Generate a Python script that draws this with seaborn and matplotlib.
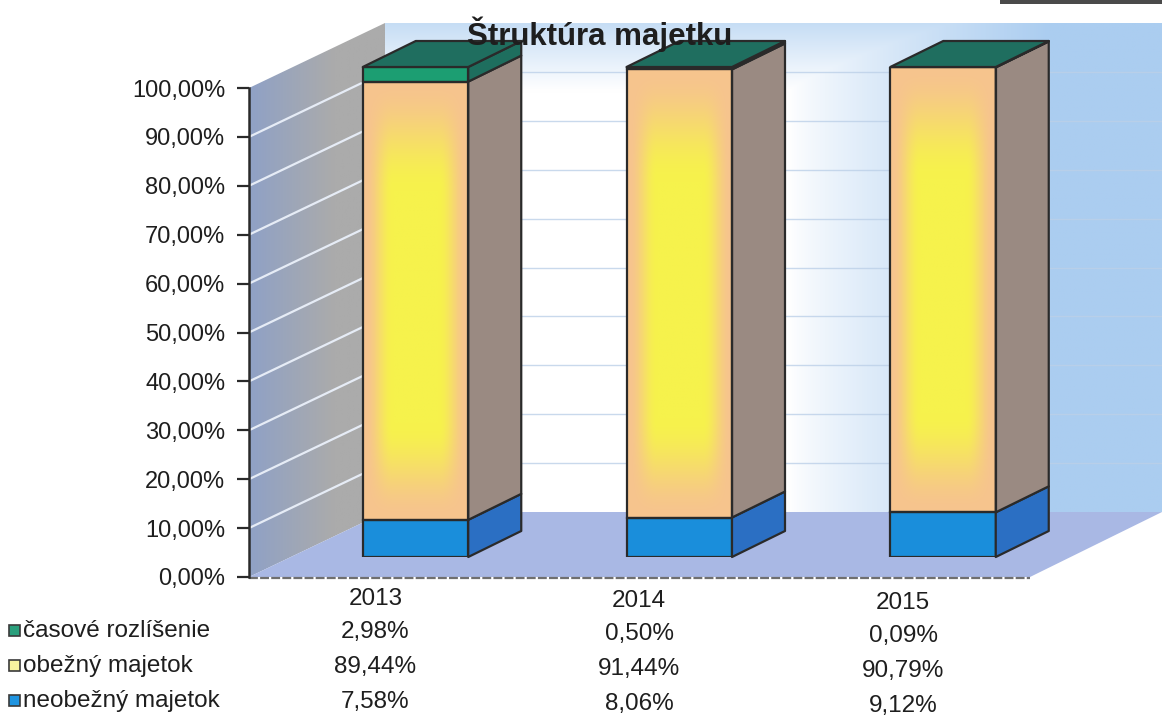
import numpy as np
import matplotlib
matplotlib.use("Agg")
import matplotlib.pyplot as plt
import seaborn as sns
from matplotlib.patches import Polygon, Rectangle
from matplotlib.colors import to_rgb

# ---------------- data ----------------
years = ["2013", "2014", "2015"]
series_names = ["časové rozlíšenie", "obežný majetok", "neobežný majetok"]
casove = [2.98, 0.50, 0.09]
obezny = [89.44, 91.44, 90.79]
neobezny = [7.58, 8.06, 9.12]
y_ticks = [0, 10, 20, 30, 40, 50, 60, 70, 80, 90, 100]
title = "Štruktúra majetku"

def pct(v):
    return f"{v:.2f}%".replace(".", ",")

# ---------------- style ----------------
sns.set_theme(style="white")
plt.rcParams['font.family'] = ['Liberation Sans', 'DejaVu Sans']
TXT = "#1e1e1e"
EDGE = "#2a2a2a"
front_col = {"neo": "#1a8edb", "obe": "#f7c48e", "cas": "#1c9e72"}
side_col = {"neo": "#2b6fc3", "obe": "#9a8a82", "cas": "#1e6e5e"}
top_col = "#1f6e5f"

W, H = 1162, 719
fig = plt.figure(figsize=(W / 100, H / 100), dpi=100)
fig.patch.set_facecolor("white")

# background axes in pixel coordinates
bg = fig.add_axes([0, 0, 1, 1], zorder=0)
bg.set_xlim(0, W)
bg.set_ylim(H, 0)
bg.axis("off")

# value axis (front plane)
AX_X, Y0, Y100 = 249, 577, 88
ax_t = fig.add_axes([AX_X / W, (H - Y0) / H, 0.0005, (Y0 - Y100) / H], zorder=2)
ax_t.set_facecolor("none")
ax_t.set_ylim(0, 100)
ax_t.set_yticks(y_ticks)
ax_t.set_yticklabels([pct(v) for v in y_ticks], fontsize=17, color=TXT)
ax_t.set_xticks([])
for s in ["top", "right", "bottom"]:
    ax_t.spines[s].set_visible(False)
ax_t.spines["left"].set_color(EDGE)
ax_t.spines["left"].set_linewidth(1.8)
ax_t.tick_params(axis="y", direction="out", length=9, width=1.6, color=EDGE, pad=8, left=True)

def to_px(ax, x, y):
    X, Y = ax.transData.transform((x, y))
    return X, H - Y

# 3D box depth (walls)
DX, DY = 136, -65
fx0, fy0 = to_px(ax_t, 0, 0)
fx1, fy1 = to_px(ax_t, 0, 100)
bx = fx0 + DX

# left wall
left_poly = [(fx1, fy1), (bx, fy1 + DY), (bx, fy0 + DY), (fx0, fy0)]
gx = np.linspace(0, 1, 200)
lw_img = np.zeros((2, 200, 3))
c_a, c_b = np.array(to_rgb("#8fa1c6")), np.array(to_rgb("#ababab"))
tt = np.clip(gx * 1.6, 0, 1)
for i in range(2):
    lw_img[i] = c_a[None, :] * (1 - tt[:, None]) + c_b[None, :] * tt[:, None]
im = bg.imshow(lw_img, extent=(fx0, bx, fy0, fy1 + DY), aspect="auto", zorder=0.5)
pp = Polygon(left_poly, closed=True, facecolor="none", edgecolor="none", transform=bg.transData)
bg.add_patch(pp)
im.set_clip_path(pp)

# back wall
nx, ny = 300, 200
xs = np.linspace(bx, W, nx)
ys = np.linspace(fy1 + DY, fy0 + DY, ny)
XX, YY = np.meshgrid(xs, ys)
t_right = np.clip((XX - 790) / 260, 0, 1) ** 0.8
t_top = np.clip((90 - YY) / 70, 0, 1) * 0.7
t_left = np.clip((430 - XX) / 60, 0, 1) * 0.2
tb = np.maximum(np.maximum(t_right, t_top), t_left)
blue = np.array(to_rgb("#abcdf0"))
white = np.array([1.0, 1.0, 1.0])
bw_img = white[None, None, :] * (1 - tb[..., None]) + blue[None, None, :] * tb[..., None]
bg.imshow(bw_img, extent=(bx, W, fy0 + DY, fy1 + DY), aspect="auto", origin="upper", zorder=0.4)

# floor
floor_poly = [(fx0, fy0), (bx, fy0 + DY), (W, fy0 + DY), (W - DX + 4, fy0)]
bg.add_patch(Polygon(floor_poly, closed=True, facecolor="#a9b8e4", edgecolor="none", zorder=0.6))
bg.plot([fx0, W - DX + 4], [fy0 + 1, fy0 + 1], color="#6f6f6f", lw=1.6, ls=(0, (4, 1)), zorder=0.7)

# gridlines
for v in y_ticks[1:-1]:
    _, gy = to_px(ax_t, 0, v)
    bg.plot([fx0, bx], [gy, gy + DY], color="#e6ecf6", lw=1.6, zorder=0.8)
    bg.plot([bx, W], [gy + DY, gy + DY], color="#bcd0e8", lw=1.0, alpha=0.8, zorder=0.8)
bg.set_xlim(0, W)
bg.set_ylim(H, 0)

# scan artefact at top right
bg.add_patch(Rectangle((1000, 0), 162, 4, facecolor="#4a4a4a", edgecolor="none", zorder=0.9))

# ---------------- bars ----------------
C0, STEP = 415.5, 263.75
BY0, BY100 = 557, 67
ax_b = fig.add_axes([(C0 - STEP / 2) / W, (H - BY0) / H, 3 * STEP / W, (BY0 - BY100) / H], zorder=3)
ax_b.set_facecolor("none")

bot_obe = list(np.array(neobezny))
bot_cas = list(np.array(neobezny) + np.array(obezny))
groups = {}
for key, vals, bottom in [("neo", neobezny, 0), ("obe", obezny, bot_obe), ("cas", casove, bot_cas)]:
    n0 = len(ax_b.patches)
    sns.barplot(x=years, y=vals, bottom=bottom, order=years, ax=ax_b, color=front_col[key],
                saturation=1, width=0.40, edgecolor=EDGE, linewidth=1.6, errorbar=None)
    groups[key] = ax_b.patches[n0:]

dxu = 53 / STEP
dyu = 26 / ((BY0 - BY100) / 100)

for key, patches in groups.items():
    for p in patches:
        x0, y0, w, h = p.get_x(), p.get_y(), p.get_width(), p.get_height()
        x1 = x0 + w
        side = [(x1, y0), (x1 + dxu, y0 + dyu), (x1 + dxu, y0 + h + dyu), (x1, y0 + h)]
        ax_b.add_patch(Polygon(side, closed=True, facecolor=side_col[key], edgecolor=EDGE,
                               lw=1.6, clip_on=False, zorder=1, joinstyle="round"))
        if key == "cas":
            top = [(x0, y0 + h), (x0 + dxu, y0 + h + dyu), (x1 + dxu, y0 + h + dyu), (x1, y0 + h)]
            ax_b.add_patch(Polygon(top, closed=True, facecolor=top_col, edgecolor=EDGE,
                                   lw=1.6, clip_on=False, zorder=1, joinstyle="round"))

# yellow glow on the front faces of the current-assets segment
def smooth(a, b, x):
    t = np.clip((x - a) / (b - a), 0, 1)
    return t * t * (3 - 2 * t)

u = np.linspace(0, 1, 80)
s = np.linspace(0, 1, 300)
U, S = np.meshgrid(u, s)
t = smooth(0.02, 0.28, U) * smooth(0.02, 0.28, 1 - U) * smooth(0.0, 0.22, S) * smooth(0.0, 0.25, 1 - S)
peach = np.array(to_rgb(front_col["obe"]))
yellow = np.array(to_rgb("#f6f24c"))
glow = peach[None, None, :] * (1 - t[..., None]) + yellow[None, None, :] * t[..., None]
for p in groups["obe"]:
    x0, y0, w, h = p.get_x(), p.get_y(), p.get_width(), p.get_height()
    gim = ax_b.imshow(glow, extent=(x0, x0 + w, y0, y0 + h), origin="lower", aspect="auto", zorder=0.9)
    gim.set_clip_path(p)
    p.set_facecolor("none")
    p.set_zorder(1.1)

ax_b.set_xlim(-0.5, 2.5)
ax_b.set_ylim(0, 100)
ax_b.axis("off")

# ---------------- title ----------------
fig.text(600 / W, 1 - 34 / H, title, ha="center", va="center", fontsize=22.5,
         fontweight="bold", color=TXT, zorder=10)

# ---------------- category labels and data table ----------------
# labels sit on the front edge of the floor, i.e. shifted left from the bar centres
col_x = [to_px(ax_b, i, 0)[0] - 40 for i in range(len(years))]

def tilt(cx):
    return 0.008 * (cx - col_x[0])

for cx, yr in zip(col_x, years):
    bg.text(cx, 599 + tilt(cx), yr, ha="center", va="center", fontsize=17.5, color=TXT)

rows = [("cas", series_names[0], casove, "#2a9f7c", 632),
        ("obe", series_names[1], obezny, "#f8f4a0", 667),
        ("neo", series_names[2], neobezny, "#1f94e0", 702)]
for key, name, vals, mcol, ry in rows:
    bg.add_patch(Rectangle((9, ry - 7), 11, 11, facecolor=mcol, edgecolor="#3a3a3a", lw=1.2, zorder=5))
    bg.text(23, ry - 1, name, ha="left", va="center", fontsize=17.5, color=TXT)
    for cx, v in zip(col_x, vals):
        bg.text(cx, ry + tilt(cx), pct(v), ha="center", va="center", fontsize=17.5, color=TXT)

fig.savefig("out.png", dpi=100)
